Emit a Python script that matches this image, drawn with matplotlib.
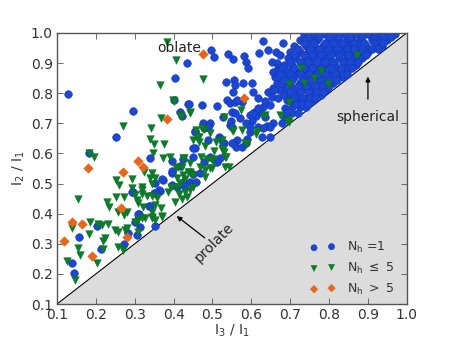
# coding=utf-8
"""
Shape of haloes: axis ratios I2/I1 vs I3/I1, split by number of hosts.
"""

import matplotlib
matplotlib.use('Agg')
import matplotlib.pyplot as plt
import numpy as np

# Datos: N_h = 1 (circulos azules)
blue_x = [0.128, 0.252, 0.296, 0.183, 0.339,
          0.139, 0.144, 0.157, 0.213, 0.203, 0.272, 0.283, 0.306, 0.311, 0.313,
          0.295, 0.337, 0.352, 0.349, 0.365, 0.372, 0.396, 0.396, 0.424, 0.442,
          0.457, 0.468, 0.450, 0.396, 0.396, 0.370, 0.352, 0.362, 0.355, 0.293,
          0.339, 0.308, 0.301,
          0.403, 0.434, 0.496, 0.504, 0.539, 0.535, 0.401, 0.416, 0.421, 0.437,
          0.473, 0.511, 0.537, 0.475, 0.491, 0.478, 0.455, 0.516, 0.529, 0.545,
          0.455, 0.488, 0.450, 0.493, 0.519, 0.424, 0.416, 0.478, 0.511,
          0.553, 0.581, 0.586, 0.591, 0.619, 0.630, 0.681, 0.663, 0.673, 0.653,
          0.666, 0.668, 0.681, 0.655, 0.661, 0.673, 0.666, 0.655, 0.673, 0.643,
          0.653, 0.668, 0.648, 0.630, 0.622, 0.609, 0.596, 0.612, 0.635, 0.601,
          0.617, 0.655, 0.686, 0.686, 0.691,
          0.555, 0.558, 0.578, 0.601, 0.553, 0.545, 0.558, 0.576, 0.604, 0.550,
          0.440, 0.527, 0.493, 0.547, 0.643,
          0.563, 0.558, 0.571, 0.586, 0.604, 0.617, 0.640, 0.596, 0.627, 0.648,
          0.589, 0.563, 0.553, 0.560, 0.617, 0.635, 0.658,
          0.455, 0.488, 0.519, 0.527, 0.550, 0.576, 0.550, 0.596, 0.630, 0.648,
          0.586, 0.450, 0.427, 0.409,
          # nube densa arriba a la derecha
          0.735, 0.760, 0.790, 0.810, 0.840, 0.870, 0.900, 0.930, 0.950, 0.970,
          0.725, 0.750, 0.770, 0.800, 0.820, 0.845, 0.860, 0.880, 0.910, 0.925, 0.950,
          0.710, 0.740, 0.760, 0.785, 0.810, 0.830, 0.850, 0.875, 0.895, 0.920, 0.935,
          0.700, 0.725, 0.745, 0.770, 0.790, 0.815, 0.835, 0.860, 0.880, 0.900,
          0.695, 0.715, 0.740, 0.760, 0.785, 0.800, 0.825, 0.845, 0.865, 0.885,
          0.685, 0.705, 0.730, 0.750, 0.775, 0.795, 0.815, 0.840, 0.855, 0.870,
          0.670, 0.695, 0.715, 0.740, 0.760, 0.785, 0.805, 0.825, 0.845,
          0.665, 0.690, 0.710, 0.735, 0.755, 0.775, 0.800, 0.820, 0.835,
          0.680, 0.700, 0.725, 0.745, 0.770, 0.790, 0.810,
          0.690, 0.710, 0.735, 0.755, 0.775, 0.795,
          0.685, 0.700, 0.720, 0.745, 0.765, 0.780,
          0.700, 0.715, 0.735, 0.755,
          0.705, 0.725, 0.740,
          0.705, 0.720, 0.680, 0.690,
          0.745, 0.775, 0.800, 0.825, 0.855, 0.885, 0.915, 0.940, 0.960,
          0.735, 0.760, 0.790, 0.810, 0.835, 0.865, 0.890, 0.915, 0.940,
          0.720, 0.750, 0.775, 0.800, 0.820, 0.845, 0.865, 0.885, 0.910, 0.925,
          0.710, 0.735, 0.755, 0.780, 0.805, 0.825, 0.850, 0.870, 0.895,
          0.700, 0.725, 0.745, 0.770, 0.790, 0.810, 0.835, 0.855, 0.875,
          0.680, 0.710, 0.735, 0.755, 0.780, 0.805, 0.830, 0.850, 0.860,
          0.675, 0.700, 0.725, 0.750, 0.770, 0.790, 0.815, 0.835, 0.845,
          0.685, 0.705, 0.730, 0.750, 0.780, 0.800, 0.820,
          0.695, 0.720, 0.740, 0.765, 0.785, 0.800,
          0.700, 0.725, 0.745, 0.770, 0.785,
          0.710, 0.730, 0.750, 0.765,
          0.715, 0.730, 0.745]
blue_y = [0.798, 0.655, 0.741, 0.600, 0.585,
          0.236, 0.203, 0.323, 0.283, 0.359, 0.299, 0.336, 0.329, 0.399, 0.356,
          0.472, 0.426, 0.359, 0.469, 0.475, 0.512, 0.535, 0.495, 0.505, 0.505,
          0.505, 0.535, 0.532, 0.575, 0.542, 0.515, 0.502, 0.479, 0.469, 0.472,
          0.426, 0.399, 0.372,
          0.851, 0.900, 0.944, 0.920, 0.930, 0.837, 0.777, 0.738, 0.724, 0.764,
          0.761, 0.758, 0.777, 0.701, 0.695, 0.685, 0.675, 0.655, 0.635, 0.695,
          0.618, 0.645, 0.589, 0.589, 0.585, 0.582, 0.559, 0.572, 0.572,
          0.913, 0.924, 0.904, 0.884, 0.934, 0.973, 0.967, 0.937, 0.927, 0.904,
          0.900, 0.884, 0.877, 0.870, 0.854, 0.861, 0.834, 0.817, 0.811, 0.804,
          0.787, 0.784, 0.761, 0.754, 0.738, 0.738, 0.728, 0.724, 0.721, 0.708,
          0.688, 0.701, 0.718, 0.751, 0.777,
          0.844, 0.827, 0.834, 0.834, 0.804, 0.767, 0.771, 0.771, 0.804, 0.738,
          0.764, 0.721, 0.701, 0.708, 0.944,
          0.777, 0.734, 0.718, 0.701, 0.734, 0.751, 0.691, 0.671, 0.655, 0.655,
          0.648, 0.645, 0.635, 0.622, 0.784, 0.774, 0.811,
          0.671, 0.688, 0.651, 0.635, 0.635, 0.622, 0.688, 0.688, 0.685, 0.688,
          0.635, 0.618, 0.495, 0.489,
          0.995, 0.995, 0.995, 0.995, 0.995, 0.995, 0.995, 0.995, 0.995, 0.995,
          0.975, 0.975, 0.975, 0.975, 0.975, 0.975, 0.975, 0.975, 0.975, 0.975, 0.975,
          0.955, 0.955, 0.955, 0.955, 0.955, 0.955, 0.955, 0.955, 0.955, 0.955, 0.955,
          0.935, 0.935, 0.935, 0.935, 0.935, 0.935, 0.935, 0.935, 0.935, 0.935,
          0.915, 0.915, 0.915, 0.915, 0.915, 0.915, 0.915, 0.915, 0.915, 0.915,
          0.895, 0.895, 0.895, 0.895, 0.895, 0.895, 0.895, 0.895, 0.895, 0.895,
          0.875, 0.875, 0.875, 0.875, 0.875, 0.875, 0.875, 0.875, 0.875,
          0.855, 0.855, 0.855, 0.855, 0.855, 0.855, 0.855, 0.855, 0.855,
          0.835, 0.835, 0.835, 0.835, 0.835, 0.835, 0.835,
          0.815, 0.815, 0.815, 0.815, 0.815, 0.815,
          0.795, 0.795, 0.795, 0.795, 0.795, 0.795,
          0.775, 0.775, 0.775, 0.775,
          0.755, 0.755, 0.755,
          0.735, 0.735, 0.700, 0.735,
          0.985, 0.985, 0.985, 0.985, 0.985, 0.985, 0.985, 0.985, 0.985,
          0.965, 0.965, 0.965, 0.965, 0.965, 0.965, 0.965, 0.965, 0.965,
          0.945, 0.945, 0.945, 0.945, 0.945, 0.945, 0.945, 0.945, 0.945, 0.945,
          0.925, 0.925, 0.925, 0.925, 0.925, 0.925, 0.925, 0.925, 0.925,
          0.905, 0.905, 0.905, 0.905, 0.905, 0.905, 0.905, 0.905, 0.905,
          0.885, 0.885, 0.885, 0.885, 0.885, 0.885, 0.885, 0.885, 0.885,
          0.865, 0.865, 0.865, 0.865, 0.865, 0.865, 0.865, 0.865, 0.865,
          0.845, 0.845, 0.845, 0.845, 0.845, 0.845, 0.845,
          0.825, 0.825, 0.825, 0.825, 0.825, 0.825,
          0.805, 0.805, 0.805, 0.805, 0.805,
          0.785, 0.785, 0.785, 0.785,
          0.765, 0.765, 0.765]

# Datos: N_h <= 5 (triangulos verdes)
green_x = [0.383, 0.406, 0.365, 0.398, 0.416, 0.367, 0.442, 0.475, 0.270, 0.342,
           0.339, 0.349, 0.375, 0.347, 0.372, 0.183, 0.196, 0.450, 0.465, 0.480,
           0.493, 0.524, 0.529, 0.470, 0.486, 0.501, 0.524, 0.532, 0.427, 0.442,
           0.421, 0.499, 0.468, 0.457, 0.478,
           0.324, 0.344, 0.339, 0.352, 0.344, 0.252, 0.260, 0.293, 0.319, 0.293,
           0.319, 0.301, 0.319, 0.154, 0.252, 0.272, 0.229, 0.234, 0.306, 0.308,
           0.331, 0.344, 0.357, 0.321, 0.352, 0.367, 0.344, 0.370, 0.344, 0.326,
           0.308, 0.257, 0.280, 0.272, 0.185, 0.205, 0.231, 0.390, 0.385, 0.393,
           0.460, 0.465, 0.503, 0.527, 0.529, 0.508, 0.535, 0.499, 0.424, 0.532,
           0.542, 0.493, 0.480, 0.480, 0.442, 0.450, 0.411, 0.406, 0.424, 0.437,
           0.429, 0.409, 0.416, 0.406, 0.450, 0.442, 0.429, 0.434, 0.414, 0.421,
           0.403, 0.553, 0.576, 0.589, 0.612, 0.614,
           0.139, 0.183, 0.154, 0.159, 0.126, 0.203, 0.146, 0.216, 0.223, 0.218,
           0.249, 0.257, 0.275, 0.280, 0.218, 0.257, 0.270, 0.301, 0.308, 0.319,
           0.344, 0.352, 0.370,
           0.871, 0.727, 0.779, 0.761, 0.735, 0.797, 0.697, 0.697, 0.694, 0.573,
           0.635, 0.673, 0.697, 0.550, 0.584,
           0.401, 0.442, 0.419, 0.632, 0.691, 0.473]
green_y = [0.970, 0.911, 0.827, 0.777, 0.728, 0.718, 0.738, 0.847, 0.691, 0.684,
           0.648, 0.632, 0.632, 0.602, 0.585, 0.602, 0.589, 0.645, 0.655, 0.625,
           0.668, 0.645, 0.721, 0.589, 0.582, 0.582, 0.615, 0.589, 0.585, 0.568,
           0.555, 0.552, 0.555, 0.678, 0.681,
           0.538, 0.535, 0.519, 0.519, 0.499, 0.512, 0.496, 0.515, 0.489, 0.485,
           0.479, 0.462, 0.465, 0.449, 0.455, 0.455, 0.439, 0.422, 0.446, 0.435,
           0.459, 0.459, 0.452, 0.422, 0.429, 0.419, 0.405, 0.392, 0.386, 0.386,
           0.379, 0.405, 0.405, 0.396, 0.372, 0.366, 0.366, 0.588, 0.472, 0.489,
           0.655, 0.638, 0.609, 0.615, 0.605, 0.638, 0.589, 0.578, 0.585, 0.555,
           0.555, 0.552, 0.545, 0.522, 0.538, 0.529, 0.555, 0.552, 0.529, 0.538,
           0.515, 0.519, 0.502, 0.489, 0.489, 0.479, 0.472, 0.455, 0.465, 0.449,
           0.439, 0.674, 0.678, 0.635, 0.665, 0.674,
           0.352, 0.333, 0.286, 0.263, 0.243, 0.236, 0.180, 0.362, 0.319, 0.309,
           0.346, 0.339, 0.346, 0.352, 0.283, 0.289, 0.279, 0.372, 0.339, 0.386,
           0.389, 0.379, 0.389,
           0.927, 0.884, 0.874, 0.851, 0.834, 0.831, 0.831, 0.771, 0.711, 0.744,
           0.728, 0.728, 0.705, 0.678, 0.635,
           0.774, 0.734, 0.724, 0.724, 0.708, 0.685]

# Datos: N_h > 5 (diamantes naranjos)
orange_x = [0.475, 0.383, 0.580, 0.308, 0.321, 0.180, 0.270, 0.265, 0.280,
            0.139, 0.164, 0.118, 0.190]
orange_y = [0.930, 0.715, 0.785, 0.575, 0.555, 0.553, 0.538, 0.420, 0.322,
            0.372, 0.365, 0.310, 0.258]

c_blue = '#1a47d6'
c_green = '#0b7d2b'
c_orange = '#e8661a'
c_text = '#333333'

fig = plt.figure(figsize=(4.52, 3.39), dpi=100)
ax = fig.add_axes([0.126, 0.103, 0.774, 0.800])

# Region prohibida (I2 < I3)
diag = np.array([0.1, 1.0])
ax.fill_between(diag, 0.1, diag, color='#dcdcdc', zorder=0, linewidth=0)
ax.plot(diag, diag, color='black', lw=0.8, zorder=1)

ax.scatter(blue_x, blue_y, s=30, marker='o', color=c_blue,
           edgecolors='#1536a8', linewidths=0.4, zorder=2, label=r'N$_\mathrm{h}$ =1')
ax.scatter(green_x, green_y, s=30, marker='v', color=c_green,
           edgecolors='#0a6a24', linewidths=0.3, zorder=3,
           label=r'N$_\mathrm{h}$ $\leq$ 5')
ax.scatter(orange_x, orange_y, s=24, marker='D', color=c_orange,
           edgecolors=c_orange, linewidths=0.3, zorder=4,
           label=r'N$_\mathrm{h}$ $>$ 5')

ax.set_xlim(0.1, 1.0)
ax.set_ylim(0.1, 1.0)
ticks = [0.1, 0.2, 0.3, 0.4, 0.5, 0.6, 0.7, 0.8, 0.9, 1.0]
ax.set_xticks(ticks)
ax.set_yticks(ticks)
ax.tick_params(direction='in', top=True, right=True, length=4, width=0.6,
               colors='#555555', labelcolor=c_text, labelsize=10, pad=3)
for s in ax.spines.values():
    s.set_color('#555555')
    s.set_linewidth(1.0)

ax.set_xlabel(r'I$_3$ / I$_1$', fontsize=10, color=c_text, labelpad=0)
ax.set_ylabel(r'I$_2$ / I$_1$', fontsize=10, color=c_text, labelpad=3)

# Anotaciones
ax.text(0.415, 0.95, 'oblate', fontsize=10, color='#222222', ha='center', va='center')
ax.annotate('spherical', xy=(0.90, 0.855), xytext=(0.90, 0.72),
            fontsize=10, color='#222222', ha='center', va='center',
            arrowprops=dict(arrowstyle='-|>', color='black', lw=0.9,
                            shrinkA=6, shrinkB=0, mutation_scale=7))
ax.annotate('', xy=(0.408, 0.392), xytext=(0.48, 0.32),
            arrowprops=dict(arrowstyle='-|>', color='black', lw=0.9,
                            shrinkA=0, shrinkB=0, mutation_scale=7))
ax.text(0.505, 0.305, 'prolate', fontsize=10, color='#222222', rotation=45,
        ha='center', va='center')

leg = ax.legend(loc='lower right', frameon=False, scatterpoints=2, fontsize=9,
                markerscale=0.8, handletextpad=0.9, labelspacing=0.45,
                borderaxespad=0.2, bbox_to_anchor=(0.985, 0.0))
for t in leg.get_texts():
    t.set_color(c_text)

fig.savefig('out.png', dpi=100)
